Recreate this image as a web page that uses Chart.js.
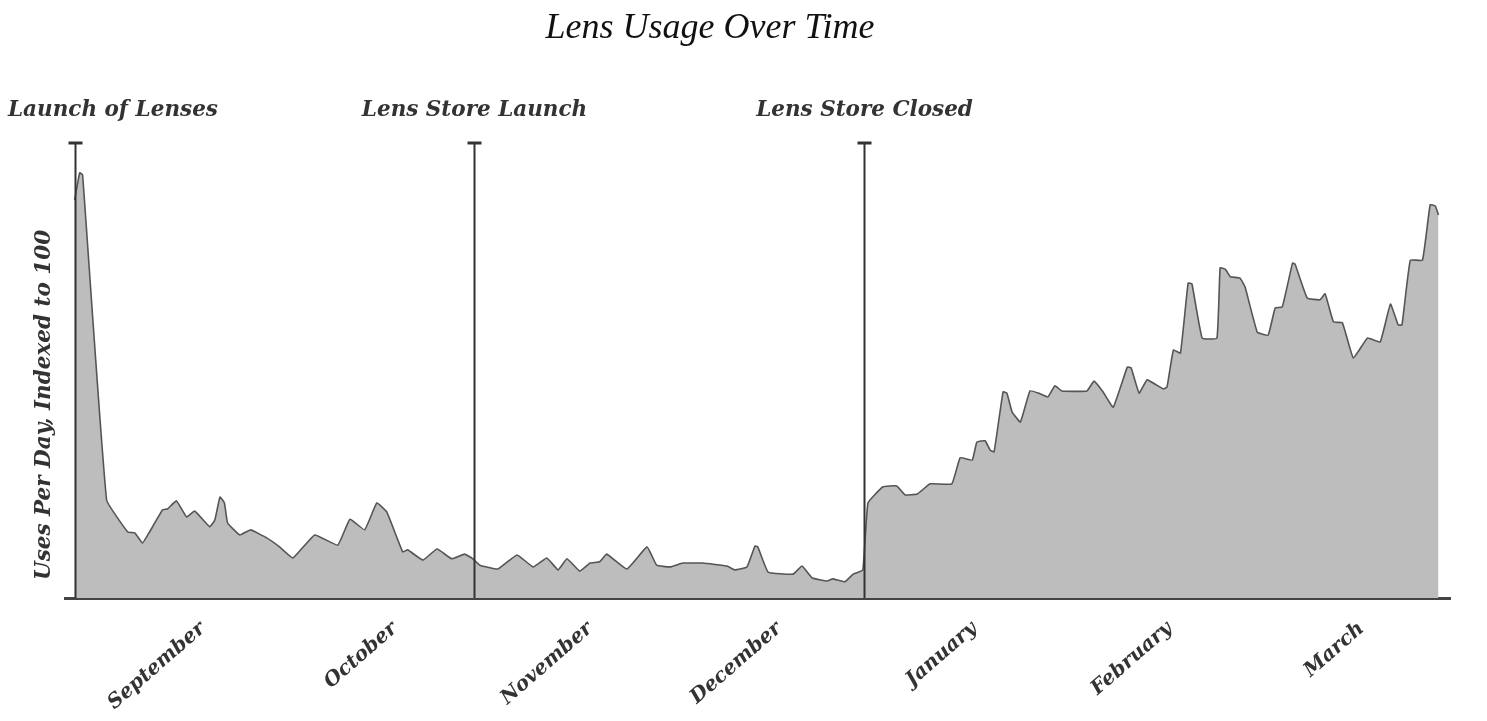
<!DOCTYPE html>
<html lang="en">
<head>
    <meta charset="UTF-8">
    <title>Lens Usage Over Time</title>
    <script src="https://cdn.jsdelivr.net/npm/chart.js"></script>
    <style>
        body { margin: 0; background: #fff; }
        #usageChart { display: block; }
    </style>
</head>
<body>
    <canvas id="usageChart" width="1487" height="721"></canvas>

    <script>
        // Days since the launch of lenses at each corner of the line
        const days = [0, 0.8, 1.25, 5, 8.3, 9.4, 10.6, 11.7, 13.75, 14.5, 15.9, 17.5, 18.75, 21.1, 21.9, 22.7, 23.4, 23.9,
            25.8, 27.5, 30, 32, 34.1, 37.5, 41.1, 43, 45.3, 47.2, 48.75, 51.25, 52, 54.4, 56.6, 58.9, 60.9, 62.2,
            63.3, 66.1, 69.1, 71.6, 73.75, 75.5, 76.9, 78.9, 80.5, 82, 83.1, 86.25, 89.4, 90.9, 93, 95, 98.1, 101.9,
            103.1, 105, 106.25, 106.7, 108.3, 112.2, 113.6, 115.2, 117.5, 118.4, 120.3, 121.6, 123.1, 123.9, 126.25,
            128.4, 129.7, 131.6, 133.6, 137, 138.3, 140.2, 140.9, 142.2, 143, 143.6, 145, 145.6, 146.4, 147.7, 149.2,
            150.5, 152, 153.1, 154.2, 158.1, 159.2, 160.6, 162.2, 164.4, 165, 166.25, 167.5, 170, 170.6, 171.6, 172.7,
            173.9, 174.5, 176.1, 178.4, 178.9, 179.7, 180.5, 182, 182.8, 184.7, 186.4, 187.5, 188.6, 190.2, 190.6,
            192.5, 194.5, 195.3, 196.6, 198, 199.7, 201.9, 203.9, 205.5, 206.7, 207.3, 208.6, 210.5, 211.7, 212.5, 213];

        // Uses per day, indexed to 100
        const usage = [93.4, 99.8, 99.3, 23, 15.5, 15.3, 12.9, 15.5, 20.7, 20.9, 22.8, 19, 20.4, 16.7, 18.3, 23.7, 22.3, 17.6,
            14.8, 16, 14.1, 12, 9.4, 14.8, 12.4, 18.5, 16, 22.3, 20.2, 10.8, 11.3, 8.9, 11.5, 9.2, 10.3, 9.2,
            7.7, 6.8, 10.1, 7.3, 9.4, 6.6, 9.2, 6.3, 8.2, 8.5, 10.3, 6.8, 12, 7.7, 7.3, 8.2, 8.2, 7.5,
            6.6, 7.3, 12.2, 12, 6.1, 5.6, 7.5, 4.7, 4, 4.5, 3.8, 5.6, 6.6, 22.3, 26.1,
            26.3, 24.2, 24.4, 26.8, 26.8, 32.9, 32.4, 36.6, 36.9, 34.7, 34.3, 48.4, 48.1, 43.7, 41.3, 48.6,
            48.1, 47.2, 49.8, 48.6, 48.6, 50.9, 48.4, 44.8, 54.2, 54, 48.1, 51.2, 49.1, 49.5, 58.2, 57.5,
            73.9, 73.7, 61, 61, 77.5, 77.2, 75.4, 75.1, 73, 62.4, 61.7, 68.1, 68.3, 78.6, 78.4,
            70.4, 70, 71.4, 64.8, 64.6, 56.3, 61, 60.1, 69, 64.1, 64.1, 79.3, 79.3, 92.3, 92, 89.9];

        const monthNames = ["September", "October", "November", "December", "January", "February", "March"];
        const monthTickDays = [20, 50, 80.5, 110, 140.5, 171, 201];

        const eventNames = ["Launch of Lenses", "Lens Store Launch", "Lens Store Closed"];
        const eventDays = [0, 62.3, 123.3];

        const serif = '"DejaVu Serif", "Liberation Serif", serif';

        // vertical event markers, axis title and chart title
        const overlay = {
            id: 'overlay',
            afterDatasetsDraw(chart) {
                const { ctx, chartArea, scales } = chart;
                ctx.save();
                ctx.strokeStyle = '#333';
                ctx.fillStyle = '#333';
                ctx.font = 'italic bold 21.5px ' + serif;
                ctx.textBaseline = 'alphabetic';
                eventDays.forEach((d, i) => {
                    const x = Math.round(scales.x.getPixelForValue(d)) + 0.5;
                    ctx.lineWidth = 2;
                    ctx.beginPath();
                    ctx.moveTo(x, chartArea.top);
                    ctx.lineTo(x, chartArea.bottom);
                    ctx.stroke();
                    ctx.lineWidth = 3;
                    ctx.beginPath();
                    ctx.moveTo(x - 7, chartArea.top);
                    ctx.lineTo(x + 7, chartArea.top);
                    ctx.stroke();
                    const w = ctx.measureText(eventNames[i]).width;
                    const left = Math.max(8, x - w / 2);
                    ctx.textAlign = 'left';
                    ctx.fillText(eventNames[i], left, 116);
                });

                // y axis title
                ctx.save();
                ctx.translate(50, 405);
                ctx.rotate(-Math.PI / 2);
                ctx.textAlign = 'center';
                ctx.font = 'italic bold 21.5px ' + serif;
                ctx.fillText('Uses Per Day, Indexed to 100', 0, 0);
                ctx.restore();

                // title
                ctx.fillStyle = '#111';
                ctx.font = 'italic 36px "Liberation Serif", "Times New Roman", serif';
                ctx.textAlign = 'center';
                ctx.fillText('Lens Usage Over Time', 710, 38);
                ctx.restore();
            }
        };

        const ctx = document.getElementById('usageChart').getContext('2d');

        const usageChart = new Chart(ctx, {
            type: 'line',
            data: {
                datasets: [{
                    label: 'Uses Per Day',
                    data: days.map((d, i) => ({ x: d, y: usage[i] })),
                    borderColor: '#555',
                    borderWidth: 1.6,
                    backgroundColor: '#bdbdbd',
                    fill: 'origin',
                    pointRadius: 0,
                    tension: 0.1
                }]
            },
            options: {
                responsive: false,
                animation: false,
                layout: { padding: { left: 65, right: 37, top: 143, bottom: 0 } },
                plugins: {
                    legend: { display: false },
                    title: { display: false },
                    tooltip: { enabled: false }
                },
                scales: {
                    x: {
                        type: 'linear',
                        min: -1.5,
                        max: 214.8,
                        grid: { display: false, drawTicks: false },
                        border: { display: true, color: '#444', width: 3 },
                        afterBuildTicks: scale => {
                            scale.ticks = monthTickDays.map(v => ({ value: v }));
                        },
                        afterFit: scale => { scale.height = 123; },
                        ticks: {
                            autoSkip: false,
                            minRotation: 41,
                            maxRotation: 41,
                            padding: 19,
                            color: '#333',
                            font: { family: serif, size: 20, style: 'italic', weight: 'bold' },
                            callback: (value, index) => monthNames[index]
                        }
                    },
                    y: {
                        display: false,
                        min: 0,
                        max: 106.8
                    }
                }
            },
            plugins: [overlay]
        });
    </script>
</body>
</html>
